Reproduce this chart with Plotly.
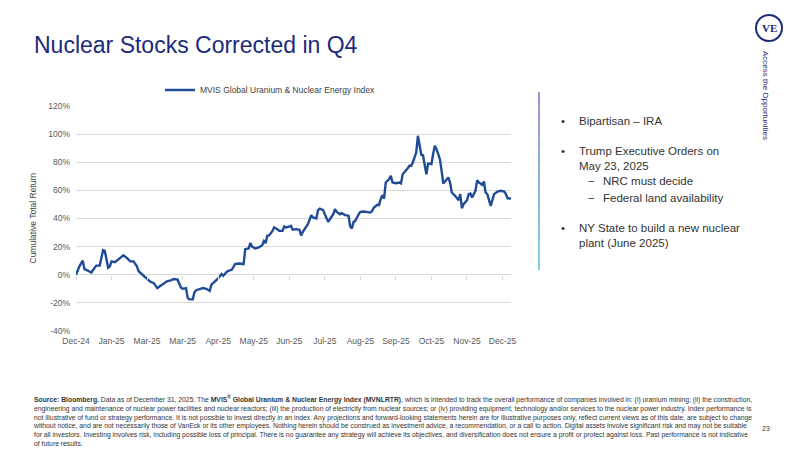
import plotly.graph_objects as go

# ---------------- data ----------------
series_name = "MVIS Global Uranium & Nuclear Energy Index"
trading_day = [0, 2, 4, 5, 7, 9, 11, 12, 14, 15, 16, 17, 18, 19, 20, 21, 23, 25, 26, 28,
               30, 32, 34, 36, 37, 39, 41, 42, 44, 46, 48, 50, 52, 54, 56, 58, 60, 62, 63, 65,
               66, 67, 69, 70, 71, 73, 75, 77, 79, 80, 82, 83, 84, 86, 87, 89, 90, 92, 94, 96,
               99, 100, 102, 103, 104, 106, 108, 110, 111, 112, 113, 114, 116, 117, 119, 120, 122, 123, 124, 126,
               127, 128, 130, 132, 133, 134, 136, 137, 139, 140, 142, 143, 144, 146, 147, 149, 150, 152, 153, 154,
               156, 157, 159, 161, 162, 163, 164, 165, 167, 168, 170, 172, 174, 175, 176, 178, 179, 180, 181, 182,
               183, 185, 186, 187, 189, 191, 192, 193, 194, 196, 197, 198, 199, 201, 202, 203, 204, 205, 206, 207,
               208, 210, 211, 212, 213, 214, 215, 216, 217, 218, 220, 221, 222, 224, 225, 226, 227, 228, 229, 231,
               232, 233, 234, 236, 237, 238, 239, 240, 241, 242, 243, 244, 245, 246, 247, 249, 251, 253, 254, 255,
               257]
cum_return = [0, 6, 10, 4, 3, 1.5, 5, 6.5, 6.5, 11, 17.5, 17, 9.5, 5, 6, 9.5, 9, 11, 12.5, 13.8,
              12, 9.5, 9.5, 6, 2.5, 0, -2, -3, -5, -6, -9.5, -8, -6, -4.5, -4, -3, -3.5, -9, -10, -9.5,
              -16.5, -17.5, -17.5, -12.5, -11, -10, -9.5, -10, -11.5, -7, -5, -4, -2.6, 0.5, -0.7, 2, 2.8, 3.5, 7.6, 8,
              7.6, 18.2, 18.7, 22.5, 20, 18.7, 19.4, 21, 24, 22.5, 27.7, 28, 31, 33.6, 32.4, 31.2, 31.2, 34.3, 33.6, 34.3,
              34.8, 32, 32.4, 32, 28, 30.5, 33.6, 36, 42.4, 40.7, 40, 46, 47, 46, 43, 37.6, 39.5, 43, 46.6, 44.7,
              43, 43.8, 42.4, 42, 34.3, 33, 37.6, 38.3, 43, 44.7, 45, 44.7, 44.2, 45.4, 47.8, 49.7, 49.5, 53.7, 56.6, 54.2,
              65.6, 68, 70.3, 65.6, 65.1, 65.6, 64.9, 71.5, 72.7, 75.8, 77.5, 77.5, 79.8, 87, 98.8, 92.9, 85.3, 85, 78.2, 71.5,
              79.1, 78.7, 85.8, 91.7, 89.3, 85.8, 82.2, 73.9, 64.9, 66.3, 69.2, 65.6, 58.5, 56.1, 54.9, 53, 57.3, 47.3, 50.2, 53,
              57.3, 57.8, 54.9, 59.7, 67.3, 65.6, 64.9, 63.9, 66.3, 58.5, 57.3, 53.7, 49, 53, 57.3, 59.2, 59.7, 59.2, 57.3, 54.4,
              54.2]
tick_labels = ["Dec-24", "Jan-25", "Mar-25", "Mar-25", "Apr-25", "May-25", "Jun-25",
               "Jul-25", "Aug-25", "Sep-25", "Oct-25", "Nov-25", "Dec-25"]
tick_step_days = 21
y_ticks = [-40, -20, 0, 20, 40, 60, 80, 100, 120]

bullets = [("•", "Bipartisan – IRA", 0),
           ("•", "Trump Executive Orders on<br>May 23, 2025", 0),
           ("−", "NRC must decide", 1),
           ("−", "Federal land availability", 1),
           ("•", "NY State to build a new nuclear<br>plant (June 2025)", 0)]

footer = ("<b>Source: Bloomberg.</b> Data as of December 31, 2025. The <b>MVIS<sup>®</sup> Global Uranium &amp; Nuclear Energy Index (MVNLRTR)</b>, which is intended to track the overall performance of companies involved in: (i) uranium mining; (ii) the construction,<br>"
          "engineering and maintenance of nuclear power facilities and nuclear reactors; (iii) the production of electricity from nuclear sources; or (iv) providing equipment, technology and/or services to the nuclear power industry. Index performance is<br>"
          "not illustrative of fund or strategy performance. It is not possible to invest directly in an index. Any projections and forward-looking statements herein are for illustrative purposes only, reflect current views as of this date, are subject to change<br>"
          "without notice, and are not necessarily those of VanEck or its other employees. Nothing herein should be construed as investment advice, a recommendation, or a call to action. Digital assets involve significant risk and may not be suitable<br>"
          "for all investors. Investing involves risk, including possible loss of principal. There is no guarantee any strategy will achieve its objectives, and diversification does not ensure a profit or protect against loss. Past performance is not indicative<br>"
          "of future results.")

# ---------------- styling ----------------
W, H = 800, 450
FONT = "Arial, Liberation Sans, sans-serif"
NAVY = "#1D2B7A"
LINE = "#1F4B97"
GRID = "#D9D9D9"
TXT = "#595959"


def px(x):
    return x / W


def py(y):
    return 1 - y / H


x_dom = [px(76), px(511)]
y_dom = [py(331), py(106)]
y_min, y_max = y_ticks[0], y_ticks[-1]
tickvals = [i * tick_step_days for i in range(len(tick_labels))]
x_range = [trading_day[0], trading_day[-1]]

fig = go.Figure()
fig.add_trace(go.Scatter(x=trading_day, y=cum_return, mode="lines", name=series_name,
                         line=dict(color=LINE, width=2.4)))
# helper trace so the zero-crossing tick axis is drawn
fig.add_trace(go.Scatter(x=[trading_day[0]], y=[cum_return[0]], xaxis="x2", mode="none",
                         showlegend=False, hoverinfo="skip"))

zero_pos = y_dom[0] + (0 - y_min) / (y_max - y_min) * (y_dom[1] - y_dom[0])

fig.update_layout(
    width=W, height=H, margin=dict(l=0, r=0, t=0, b=0, autoexpand=False),
    paper_bgcolor="white", plot_bgcolor="white",
    font=dict(family=FONT, color=TXT, size=8.5),
    xaxis=dict(domain=x_dom, range=x_range, showgrid=False, zeroline=False, showline=False,
               tickmode="array", tickvals=tickvals, ticktext=tick_labels, ticks="",
               tickfont=dict(size=8.5, color=TXT), ticklabelstandoff=3, automargin=False),
    xaxis2=dict(overlaying="x", anchor="free", position=zero_pos, range=x_range,
                tickmode="array", tickvals=tickvals, ticks="outside", ticklen=4,
                tickcolor=GRID, tickwidth=1.2, showticklabels=False, showgrid=False,
                zeroline=False, showline=False, automargin=False),
    yaxis=dict(domain=y_dom, range=[y_min, y_max], tickmode="array", tickvals=y_ticks,
               ticktext=[f"{v}%" for v in y_ticks], showgrid=True, gridcolor=GRID, gridwidth=1.3,
               zeroline=False, showline=False, ticks="", tickfont=dict(size=8.5, color=TXT),
               ticklabelstandoff=5, automargin=False),
    showlegend=True,
    legend=dict(orientation="h", x=px(160), xanchor="left", y=py(90), yanchor="middle",
                font=dict(size=8.5, color="#404040"), bgcolor="rgba(0,0,0,0)",
                itemwidth=30, tracegroupgap=0),
)

ann = []
# title
ann.append(dict(text="Nuclear Stocks Corrected in Q4", x=px(32), y=py(45), xref="paper", yref="paper",
                xanchor="left", yanchor="middle", showarrow=False,
                font=dict(size=23, color=NAVY, family=FONT)))
# y-axis title
ann.append(dict(text="Cumulative Total Return", x=px(33), y=(y_dom[0] + y_dom[1]) / 2, xref="paper",
                yref="paper", xanchor="center", yanchor="middle", textangle=-90, showarrow=False,
                font=dict(size=8.5, color="#404040", family=FONT)))
# bullet list
bullet_y = [121, 158, 181, 198, 235]
for (sym, txt, lvl), yy in zip(bullets, bullet_y):
    sx, tx = (563, 577) if lvl == 0 else (591, 601)
    first_line_y = yy - (7.5 if "<br>" in txt else 0)
    ann.append(dict(text=sym, x=px(sx), y=py(first_line_y), xref="paper", yref="paper",
                    xanchor="center", yanchor="middle", showarrow=False,
                    font=dict(size=11.5, color="#333333", family=FONT)))
    ann.append(dict(text=txt, x=px(tx), y=py(yy), xref="paper", yref="paper", align="left",
                    xanchor="left", yanchor="middle", showarrow=False,
                    font=dict(size=11.5, color="#333333", family=FONT)))
# logo
ann.append(dict(text="<b>VE</b>", x=px(769), y=py(28), xref="paper", yref="paper",
                xanchor="center", yanchor="middle", showarrow=False,
                font=dict(size=11, color=NAVY, family="Liberation Serif, DejaVu Serif, serif")))
ann.append(dict(text="Access the Opportunities", x=px(766), y=py(95), xref="paper", yref="paper",
                xanchor="center", yanchor="middle", textangle=90, showarrow=False,
                font=dict(size=8, color=NAVY, family=FONT)))
# footer
ann.append(dict(text=footer, x=px(31), y=py(392), xref="paper", yref="paper", align="left",
                xanchor="left", yanchor="top", showarrow=False,
                font=dict(size=6.8, color="#333333", family=FONT)))
ann.append(dict(text="23", x=px(766), y=py(428), xref="paper", yref="paper",
                xanchor="center", yanchor="middle", showarrow=False,
                font=dict(size=7, color="#404040", family=FONT)))
fig.update_layout(annotations=ann)

shapes = [dict(type="circle", xref="paper", yref="paper", x0=px(756), x1=px(782), y0=py(41), y1=py(15),
               line=dict(color=NAVY, width=2))]
# gradient separator line (purple at top to teal at bottom)
top_rgb, bot_rgb = (150, 150, 205), (125, 210, 222)
n_seg = 12
sep_top, sep_bot = 92, 270
for i in range(n_seg):
    f = i / (n_seg - 1)
    c = tuple(int(top_rgb[k] + (bot_rgb[k] - top_rgb[k]) * f) for k in range(3))
    y0 = sep_top + (sep_bot - sep_top) * i / n_seg
    y1 = sep_top + (sep_bot - sep_top) * (i + 1) / n_seg
    shapes.append(dict(type="line", xref="paper", yref="paper", x0=px(539), x1=px(539),
                       y0=py(y0), y1=py(y1), line=dict(color=f"rgb{c}", width=2)))
fig.update_layout(shapes=shapes)

fig.write_html("out.html")
